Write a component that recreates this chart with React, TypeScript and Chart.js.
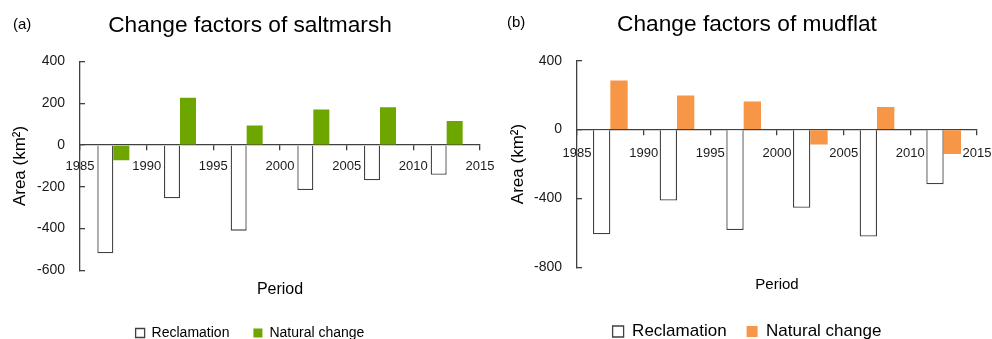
import React, { useEffect, useRef } from 'react';
import { Chart, registerables } from 'chart.js';

Chart.register(...registerables);

const FONT = '"Liberation Sans", Arial, Helvetica, sans-serif';

// ---- data ----
const periodMidYears = [1987.5, 1992.5, 1997.5, 2002.5, 2007.5, 2012.5];
const yearTicks = [1985, 1990, 1995, 2000, 2005, 2010, 2015];

const saltmarshReclamation = [-518, -255, -410, -215, -169, -142];
const saltmarshNatural = [-72, 227, 94, 171, 182, 115];
const saltmarshYTicks = [-600, -400, -200, 0, 200, 400];

const mudflatReclamation = [-608, -412, -584, -454, -621, -318];
const mudflatNatural = [285, 198, 163, -87, 131, -142];
const mudflatYTicks = [-800, -400, 0, 400];

const seriesNames = ['Reclamation', 'Natural change'];

const AXIS = '#404040';

type PanelCfg = {
  tag: string;
  title: string;
  reclamation: number[];
  natural: number[];
  naturalColor: string;
  yTicks: number[];
  left: number;
  padLeft: number;
  axisWidth: number;
  rightWidth: number;
  titlePad: { top: number; bottom: number };
  yTitleFont: number;
  yTitlePadTop: number;
  xTickLineHeight: string;
  periodFont: number;
  periodPad: { top: number; bottom: number };
  legendFont: number;
  legendBox: number;
  legendPad: number;
  catPct: number;
  tagTop: number;
  tagLeft: number;
};

const panels: PanelCfg[] = [
  {
    tag: '(a)',
    title: 'Change factors of saltmarsh',
    reclamation: saltmarshReclamation,
    natural: saltmarshNatural,
    naturalColor: '#6EA600',
    yTicks: saltmarshYTicks,
    left: 0,
    padLeft: 4,
    axisWidth: 76,
    rightWidth: 16,
    titlePad: { top: 11.9, bottom: 22.5 },
    yTitleFont: 17,
    yTitlePadTop: 5.8,
    xTickLineHeight: '33px',
    periodFont: 16,
    periodPad: { top: 9.4, bottom: 3.1 },
    legendFont: 14,
    legendBox: 9,
    legendPad: 24,
    catPct: 0.48,
    tagTop: 16,
    tagLeft: 13,
  },
  {
    tag: '(b)',
    title: 'Change factors of mudflat',
    reclamation: mudflatReclamation,
    natural: mudflatNatural,
    naturalColor: '#F79646',
    yTicks: mudflatYTicks,
    left: 496,
    padLeft: 6,
    axisWidth: 75,
    rightWidth: 15,
    titlePad: { top: 11.4, bottom: 22.1 },
    yTitleFont: 17,
    yTitlePadTop: 6.3,
    xTickLineHeight: '37px',
    periodFont: 15,
    periodPad: { top: 8.7, bottom: 9.0 },
    legendFont: 17,
    legendBox: 11,
    legendPad: 20,
    catPct: 0.52,
    tagTop: 14,
    tagLeft: 11,
  },
];

const CANVAS_W = 496;
const CANVAS_H = 350;

function Panel({ cfg }: { cfg: PanelCfg }) {
  const ref = useRef<HTMLCanvasElement | null>(null);

  useEffect(() => {
    if (!ref.current) return;
    const yMin = Math.min(...cfg.yTicks);
    const yMax = Math.max(...cfg.yTicks);
    const step = cfg.yTicks[1] - cfg.yTicks[0];
    const chart = new Chart(ref.current, {
      type: 'bar',
      data: {
        datasets: [
          {
            label: seriesNames[0],
            data: periodMidYears.map((x, i) => ({ x, y: cfg.reclamation[i] })),
            backgroundColor: '#FFFFFF',
            borderColor: AXIS,
            borderWidth: 1.3,
            borderSkipped: 'start',
            yAxisID: 'y',
          },
          {
            label: seriesNames[1],
            data: periodMidYears.map((x, i) => ({ x, y: cfg.natural[i] })),
            backgroundColor: cfg.naturalColor,
            borderWidth: 0,
            yAxisID: 'y',
          },
        ],
      },
      options: {
        responsive: false,
        animation: false,
        events: [],
        devicePixelRatio: 1,
        categoryPercentage: cfg.catPct,
        barPercentage: 1,
        layout: { padding: { left: cfg.padLeft, right: 0, top: 0, bottom: 0 } },
        scales: {
          x: {
            type: 'linear',
            position: { y: 0 },
            min: yearTicks[0],
            max: yearTicks[yearTicks.length - 1],
            offset: false,
            afterBuildTicks: (scale: any) => {
              scale.ticks = yearTicks.map((v) => ({ value: v }));
            },
            grid: {
              display: true,
              drawOnChartArea: false,
              drawTicks: true,
              tickLength: 5,
              color: AXIS,
              lineWidth: 1.3,
              offset: false,
            },
            border: { display: true, color: AXIS, width: 1.3 },
            ticks: {
              padding: 0,
              color: '#1a1a1a',
              font: { family: FONT, size: 13, lineHeight: cfg.xTickLineHeight },
              maxRotation: 0,
              autoSkip: false,
              callback: (v: any) => String(v),
            },
          },
          y: {
            type: 'linear',
            position: 'left',
            min: yMin,
            max: yMax,
            afterBuildTicks: (scale: any) => {
              scale.ticks = cfg.yTicks.map((v) => ({ value: v }));
            },
            afterFit: (scale: any) => {
              scale.width = cfg.axisWidth;
            },
            grid: {
              display: true,
              drawOnChartArea: false,
              drawTicks: true,
              tickLength: -5,
              color: AXIS,
              lineWidth: 1.3,
            },
            border: { display: true, color: AXIS, width: 1.3 },
            ticks: {
              stepSize: step,
              padding: 20,
              color: '#1a1a1a',
              font: { family: FONT, size: 14 },
              callback: (v: any) => String(v),
            },
            title: {
              display: true,
              text: 'Area (km²)',
              color: '#000',
              font: { family: FONT, size: cfg.yTitleFont },
              padding: { top: cfg.yTitlePadTop, bottom: 0 },
            },
          },
          // empty right-hand margin axis (keeps plot width like the original)
          yRight: {
            type: 'linear',
            position: 'right',
            display: true,
            min: yMin,
            max: yMax,
            grid: { display: false, drawTicks: false },
            border: { display: false },
            ticks: { display: false },
            afterFit: (scale: any) => {
              scale.width = cfg.rightWidth;
            },
          },
        },
        plugins: {
          tooltip: { enabled: false },
          title: {
            display: true,
            text: cfg.title,
            position: 'top',
            color: '#000',
            font: { family: FONT, size: 22.7, weight: 'normal' },
            padding: cfg.titlePad,
          },
          subtitle: {
            display: true,
            text: 'Period',
            position: 'bottom',
            fullSize: false,
            color: '#000',
            font: { family: FONT, size: cfg.periodFont, weight: 'normal' },
            padding: cfg.periodPad,
          },
          legend: {
            display: true,
            position: 'bottom',
            weight: 3000,
            labels: {
              color: '#000',
              font: { family: FONT, size: cfg.legendFont },
              boxWidth: cfg.legendBox,
              boxHeight: cfg.legendBox,
              padding: cfg.legendPad,
            },
          },
        },
      } as any,
    });
    return () => chart.destroy();
  }, [cfg]);

  return (
    <>
      <canvas
        ref={ref}
        width={CANVAS_W}
        height={CANVAS_H}
        style={{ position: 'absolute', left: cfg.left, top: 0, width: CANVAS_W, height: CANVAS_H, display: 'block' }}
      />
      <div
        style={{
          position: 'absolute',
          left: cfg.left + cfg.tagLeft,
          top: cfg.tagTop,
          fontFamily: FONT,
          fontSize: 15,
          lineHeight: '15px',
          color: '#000',
          whiteSpace: 'nowrap',
        }}
      >
        {cfg.tag}
      </div>
    </>
  );
}

export default function App() {
  return (
    <div
      style={{
        position: 'absolute',
        left: 0,
        top: 0,
        width: 992,
        height: 339,
        overflow: 'hidden',
        background: '#fff',
      }}
    >
      {panels.map((p) => (
        <Panel key={p.tag} cfg={p} />
      ))}
    </div>
  );
}
